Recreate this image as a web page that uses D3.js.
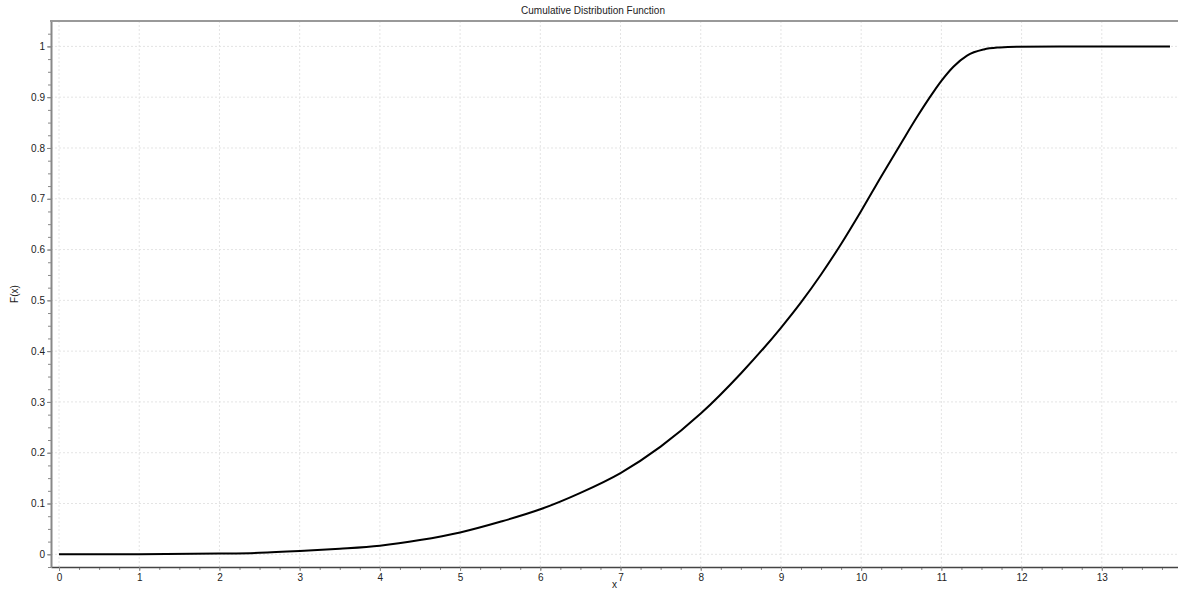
<!DOCTYPE html>
<html>
<head>
<meta charset="utf-8">
<script src="https://cdn.jsdelivr.net/npm/d3@7"></script>
<style>
  body { margin: 0; background: #fff; }
  text { font-family: "Liberation Sans", Arial, sans-serif; }
</style>
</head>
<body>
<div id="chart"></div>
<script>
// values
var x_values = [0, 1, 2, 2.5, 3, 3.5, 4, 4.5, 5, 5.5, 6, 6.5, 7, 7.5, 8, 8.5, 9, 9.25, 9.5, 9.75, 10, 10.25, 10.5, 10.7, 10.9, 11, 11.15, 11.32, 11.53, 11.73, 11.94, 12.5, 13, 13.85];
var f_values = [0, 0.0002, 0.0015, 0.003, 0.0065, 0.011, 0.017, 0.028, 0.043, 0.064, 0.0886, 0.121, 0.16, 0.212, 0.277, 0.356, 0.446, 0.496, 0.551, 0.611, 0.676, 0.744, 0.81, 0.862, 0.91, 0.932, 0.96, 0.982, 0.994, 0.998, 0.9995, 1, 1, 1];
var x_ticks = d3.range(0, 14, 1);
var y_ticks = d3.range(0, 1.01, 0.1);

var svg_width = 1178, svg_height = 592;
var margins = { top: 21, right: 0, bottom: 25, left: 51 };
var chartWidth = svg_width - margins.left - margins.right;
var chartHeight = svg_height - margins.top - margins.bottom;

var svg = d3.select("#chart").append("svg")
    .attr("width", svg_width)
    .attr("height", svg_height);

var chart = svg.append("g")
    .attr("transform", `translate(${margins.left},${margins.top})`);

var x_scale = d3.scaleLinear().domain([-0.1, 13.95]).range([0, chartWidth]);
var y_scale = d3.scaleLinear().domain([-0.025, 1.05]).range([chartHeight, 0]);

// grid lines
chart.append("g").selectAll("line").data(x_ticks).join("line")
    .attr("x1", d => x_scale(d)).attr("x2", d => x_scale(d))
    .attr("y1", 0).attr("y2", chartHeight)
    .attr("stroke", "#e4e4e4").attr("stroke-dasharray", "2,2");
chart.append("g").selectAll("line").data(y_ticks).join("line")
    .attr("x1", 0).attr("x2", chartWidth)
    .attr("y1", d => y_scale(d)).attr("y2", d => y_scale(d))
    .attr("stroke", "#e4e4e4").attr("stroke-dasharray", "2,2");

// minor ticks
var x_minor = d3.range(0, 13.95, 0.25);
var y_minor = d3.range(-0.025, 1.05, 0.025);
chart.append("g").call(d3.axisBottom(x_scale).tickValues(x_minor).tickSize(3).tickFormat(""))
    .attr("transform", `translate(0,${chartHeight})`)
    .call(g => g.select(".domain").remove())
    .call(g => g.selectAll("line").attr("stroke", "#888"));
chart.append("g").call(d3.axisLeft(y_scale).tickValues(y_minor).tickSize(3).tickFormat(""))
    .call(g => g.select(".domain").remove())
    .call(g => g.selectAll("line").attr("stroke", "#888"));

// major axes
var bottom_axis = chart.append("g")
    .attr("transform", `translate(0,${chartHeight})`)
    .call(d3.axisBottom(x_scale).tickValues(x_ticks).tickSize(4).tickSizeOuter(0).tickPadding(3).tickFormat(d3.format("d")));
bottom_axis.select(".domain").attr("stroke", "#444").attr("stroke-width", 1.5);
bottom_axis.selectAll("line").attr("stroke", "#888");
bottom_axis.selectAll("text").attr("font-size", 10).attr("fill", "#222");

var left_axis = chart.append("g")
    .call(d3.axisLeft(y_scale).tickValues(y_ticks).tickSize(4).tickSizeOuter(0).tickPadding(2).tickFormat(d3.format("~g")));
left_axis.select(".domain").attr("stroke", "#888").attr("stroke-width", 2);
left_axis.selectAll("line").attr("stroke", "#888");
left_axis.selectAll("text").attr("font-size", 10).attr("fill", "#222");

// top border
chart.append("line")
    .attr("x1", -1).attr("x2", chartWidth).attr("y1", 0).attr("y2", 0)
    .attr("stroke", "#999").attr("stroke-width", 2);

// curve
var line = d3.line()
    .x((d, i) => x_scale(x_values[i]))
    .y(d => y_scale(d))
    .curve(d3.curveMonotoneX);
chart.append("path")
    .datum(f_values)
    .attr("d", line)
    .attr("fill", "none")
    .attr("stroke", "#000")
    .attr("stroke-width", 2);

// labels
svg.append("text").attr("x", 593).attr("y", 14)
    .attr("text-anchor", "middle").attr("font-size", 10).attr("fill", "#222")
    .text("Cumulative Distribution Function");
svg.append("text").attr("x", margins.left + chartWidth / 2).attr("y", 588)
    .attr("text-anchor", "middle").attr("font-size", 10).attr("fill", "#222")
    .text("x");
svg.append("text")
    .attr("transform", `translate(18,${margins.top + chartHeight / 2}) rotate(-90)`)
    .attr("text-anchor", "middle").attr("font-size", 10).attr("fill", "#222")
    .text("F(x)");
</script>
</body>
</html>
